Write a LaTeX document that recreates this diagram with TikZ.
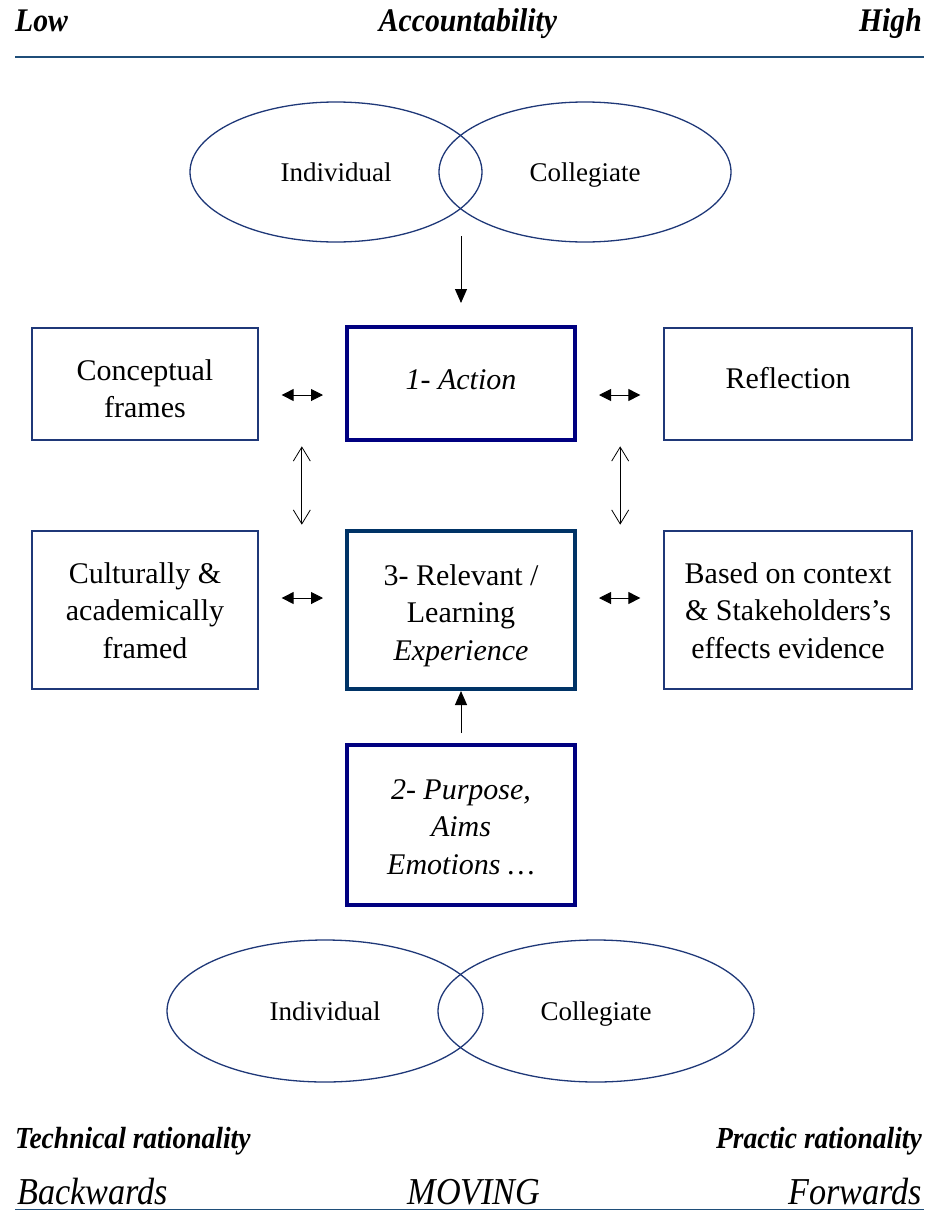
\documentclass[tikz,border=0pt]{standalone}
\usepackage{fontspec}
\setmainfont{Liberation Serif}
\newfontfamily\condfont[FakeStretch=0.9]{Liberation Serif}
\usetikzlibrary{shapes.geometric,arrows.meta,calc}
\definecolor{rulec}{RGB}{31,78,121}
\definecolor{thinc}{RGB}{31,56,120}
\definecolor{navyb}{RGB}{0,0,128}
\definecolor{tealb}{RGB}{0,51,102}
\newcommand{\lines}[1]{\begin{tabular}[t]{@{}c@{}}#1\end{tabular}}
\begin{document}
\begin{tikzpicture}[x=1pt,y=-1pt,
 box/.style={draw=thinc, line width=1.3pt, inner sep=0pt, anchor=base, font=\fontsize{30}{37.5}\selectfont},
 keybox/.style={box, line width=4pt},
 oval/.style={draw=thinc, line width=1.3pt, ellipse, inner sep=0pt, text height=18pt, text depth=0pt, font=\fontsize{27}{32}\selectfont},
 dbl/.style={{Triangle[length=12pt,width=12pt]}-{Triangle[length=12pt,width=12pt]}, line width=1pt},
 vdbl/.style={{Straight Barb[length=14pt,width=17pt]}-{Straight Barb[length=14pt,width=17pt]}, line width=0.8pt},
 one/.style={-{Triangle[length=14pt,width=12pt]}, line width=1pt},
 hdr/.style={font=\condfont\bfseries\itshape\fontsize{33}{36}\selectfont, inner sep=0pt},
 ftr/.style={font=\condfont\bfseries\itshape\fontsize{30.6}{34}\selectfont, inner sep=0pt},
 mov/.style={font=\condfont\itshape\fontsize{38}{42}\selectfont, inner sep=0pt}
]
\useasboundingbox (0,0) rectangle (931,1210);
% header
\node[hdr, anchor=base west] (low) at (15,31) {Low};
\node[hdr, anchor=base] (acc) at (468,31) {Accountability};
\node[hdr, anchor=base east] (high) at (922,31) {High};
\draw[rulec, line width=2pt] (15,57) -- (924,57);
% top ellipses
\node[oval, minimum width=292, minimum height=140] (ind1) at (336,172) {Individual};
\node[oval, minimum width=292, minimum height=140] (col1) at (585,172) {Collegiate};
% row 1 (node placed at first text baseline; text height/depth fix the box centre)
\node[box, minimum width=226, minimum height=112, text height=20pt, text depth=28pt] (cf) at (145,380) {\lines{Conceptual\\frames}};
\node[keybox, draw=navyb, minimum width=228, minimum height=113, text height=30pt, text depth=19pt] (act) at (461,389) {\itshape 1- Action};
\node[box, minimum width=248, minimum height=112, text height=30pt, text depth=22pt] (rf) at (788,388) {Reflection};
% row 2
\node[box, minimum width=226, minimum height=158, text height=20pt, text depth=74pt] (cu) at (145,583) {\lines{Culturally \&\\academically\\framed}};
\node[keybox, draw=tealb, minimum width=228, minimum height=158, text height=20pt, text depth=70pt] (rel) at (461,585) {\lines{3- Relevant /\\Learning\\\itshape Experience}};
\node[box, minimum width=248, minimum height=158, text height=20pt, text depth=74pt] (bc) at (788,583) {\lines{Based on context\\\& Stakeholders’s\\effects evidence}};
% purpose
\node[keybox, draw=navyb, minimum width=228, minimum height=160, text height=20pt, text depth=72pt] (pur) at (461,799) {\lines{\itshape 2- Purpose,\\\itshape Aims\\\itshape Emotions \dots}};
% bottom ellipses
\node[oval, minimum width=316, minimum height=142] (ind2) at (325,1011) {Individual};
\node[oval, minimum width=316, minimum height=142] (col2) at (596,1011) {Collegiate};
% arrows
\draw[one] ($(act.north)+(0,-89)$) -- ($(act.north)+(0,-22)$);
\draw[dbl] ($(cf.east)+(23,11)$) -- ($(act.west)+(-22,11.5)$);
\draw[dbl] ($(act.east)+(22,11.5)$) -- ($(rf.west)+(-23,11)$);
\draw[dbl] ($(cu.east)+(23,-12)$) -- ($(rel.west)+(-22,-12)$);
\draw[dbl] ($(rel.east)+(22,-12)$) -- ($(bc.west)+(-23,-12)$);
\draw[vdbl] ($(cf.south east)!.5!(act.south west)+(0,5)$) -- ($(cu.north east)!.5!(rel.north west)+(0,-5)$);
\draw[vdbl] ($(act.south east)!.5!(rf.south west)+(0,5)$) -- ($(rel.north east)!.5!(bc.north west)+(0,-5)$);
\draw[one] ($(pur.north)+(0,-10)$) -- (rel.south);
% footer
\node[ftr, anchor=base west] (tech) at (15,1148) {Technical rationality};
\node[ftr, anchor=base east] (prac) at (922,1148) {Practic rationality};
\node[mov, anchor=base west] (back) at (17,1204) {Backwards};
\node[mov, anchor=base] (moving) at (474,1204) {MOVING};
\node[mov, anchor=base east] (fwd) at (922,1204) {Forwards};
\draw[rulec, line width=1pt] (15,1209) -- (924,1209);
\end{tikzpicture}
\end{document}
